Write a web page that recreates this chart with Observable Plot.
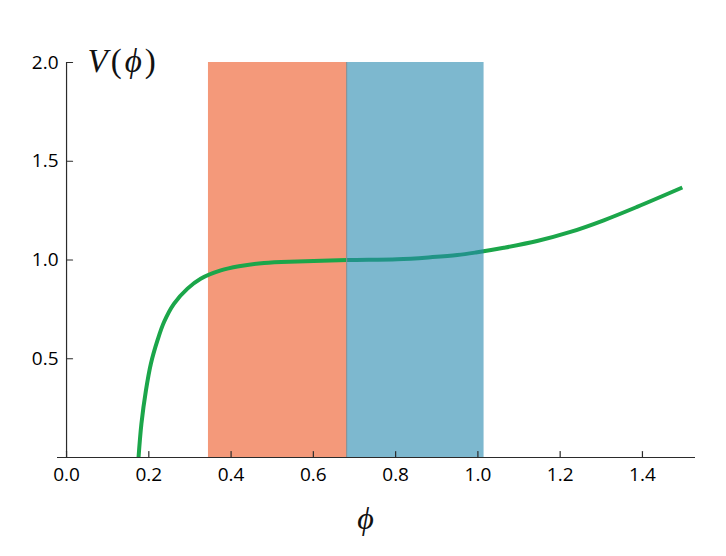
<!DOCTYPE html>
<html><head><meta charset="utf-8">
<script src="https://cdn.jsdelivr.net/npm/d3@7"></script>
<script src="https://cdn.jsdelivr.net/npm/@observablehq/plot@0.6"></script>
<style>body{margin:0;background:#fff}</style>
</head><body><div id="chart"></div>
<script>
// curve V(phi)
const phi = [0.175, 0.182, 0.193, 0.205, 0.221, 0.237, 0.261, 0.294, 0.326, 0.375, 0.419, 0.48, 0.561, 0.683, 0.804, 0.885, 0.95, 0.995, 1.063, 1.144, 1.225, 1.306, 1.387, 1.497];
const V   = [0.0,   0.171, 0.34,  0.475, 0.593, 0.686, 0.778, 0.855, 0.905, 0.947, 0.968, 0.985, 0.993, 1.0,   1.004, 1.014, 1.025, 1.038, 1.062, 1.096, 1.142, 1.201, 1.269, 1.367];
// shaded regions
const bandStart = [0.345, 0.681];
const bandEnd   = [0.681, 1.015];
const bandTop   = [2, 2];
// ticks
const xTicks = [0, 0.2, 0.4, 0.6, 0.8, 1.0, 1.2, 1.4];
const xTickLabels = ["0.0", "0.2", "0.4", "0.6", "0.8", "1.0", "1.2", "1.4"];
const yTicks = [0.5, 1.0, 1.5, 2.0];
const yTickLabels = ["0.5", "1.0", "1.5", "2.0"];
const xLabel = "ϕ";
const yLabel = "V(ϕ)";

const curve = phi.map((p, i) => ({phi: p, V: V[i]}));
const tickShape = {draw(ctx, l) { ctx.moveTo(0, 0); ctx.lineTo(0, -l); }};
const axisColor = "#2b2b2b";
const sans = "'Open Sans', sans-serif";
const serif = "'Liberation Serif', 'DejaVu Serif', serif";

const chart = Plot.plot({
  width: 726, height: 556,
  marginLeft: 57, marginRight: 31, marginTop: 62, marginBottom: 99,
  x: {domain: [-0.022, 1.529], axis: null},
  y: {domain: [0, 2], axis: null},
  style: {fontFamily: sans, background: "#fff"},
  marks: [
    // orange band (below the curve)
    Plot.rect([0], {x1: i => bandStart[i], x2: i => bandEnd[i], y1: 0, y2: i => bandTop[i], fill: "#F4997A"}),
    Plot.line(curve, {x: "phi", y: "V", curve: "catmull-rom", stroke: "#1BA64A", strokeWidth: 4, strokeLinecap: "butt"}),
    // blue band (semi-transparent, above the curve)
    Plot.rect([1], {x1: i => bandStart[i], x2: i => bandEnd[i], y1: 0, y2: i => bandTop[i], fill: "#2689AF", fillOpacity: 0.6}),
    Plot.ruleX([bandEnd[0]], {y1: 0, y2: bandTop[0], stroke: "#8c8c8c", strokeWidth: 1}),
    // axes lines
    Plot.ruleY([0], {stroke: axisColor, strokeWidth: 1.2}),
    Plot.ruleX([0], {y1: 0, y2: 2, stroke: axisColor, strokeWidth: 1.2}),
    // tick marks pointing inward
    Plot.vector(xTicks, {x: d => d, y: 0, length: 6, rotate: 0, anchor: "start", shape: tickShape, stroke: axisColor, strokeWidth: 1.2}),
    Plot.vector(yTicks, {x: 0, y: d => d, length: 6, rotate: 90, anchor: "start", shape: tickShape, stroke: axisColor, strokeWidth: 1.2}),
    // tick labels
    Plot.text(xTicks, {x: d => d, y: 0, text: (d, i) => xTickLabels[i], dy: 17, fontSize: 19, fill: "#000", lineAnchor: "middle"}),
    Plot.text(yTicks, {x: 0, y: d => d, text: (d, i) => yTickLabels[i], dx: -8, textAnchor: "end", fontSize: 19, fill: "#000", lineAnchor: "middle"}),
    // axis titles
    Plot.text([xLabel], {frameAnchor: "bottom", dx: -11, dy: 61, lineAnchor: "middle", fontSize: 32, fontFamily: serif, fontStyle: "italic", fill: "#111"}),
    Plot.text([yLabel], {frameAnchor: "top-left", dx: 30, dy: -1, lineAnchor: "middle", textAnchor: "start", fontSize: 33, fontFamily: serif, fill: "#111", className: "ylab"})
  ]
});
document.getElementById("chart").appendChild(chart);
// italic V and phi, upright parentheses, with math spacing
d3.select(chart).selectAll(".ylab text").each(function() {
  const t = d3.select(this);
  t.text(null);
  t.append("tspan").attr("font-style", "italic").text("V");
  t.append("tspan").attr("dx", 3).text("(");
  t.append("tspan").attr("dx", 3).attr("font-style", "italic").text("ϕ");
  t.append("tspan").attr("dx", 3).text(")");
});
</script>
</body></html>
